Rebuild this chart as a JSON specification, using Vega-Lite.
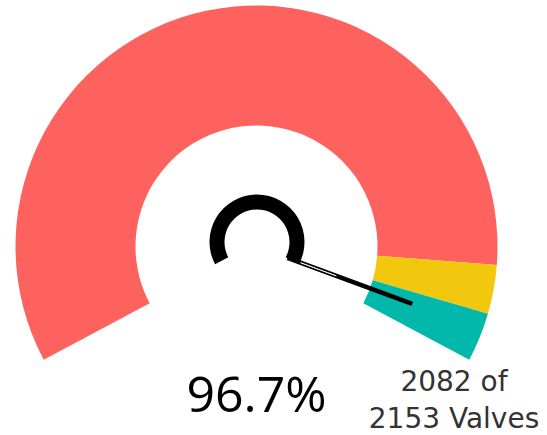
{
  "$schema": "https://vega.github.io/schema/vega-lite/v6.json",
  "width": 547,
  "height": 435,
  "padding": 0,
  "autosize": "none",
  "background": "white",
  "config": {"view": {"stroke": null}},
  "datasets": {
    "bands": [
      {"band": "low", "from": 0, "to": 0.9},
      {"band": "mid", "from": 0.9, "to": 0.95},
      {"band": "high", "from": 0.95, "to": 1}
    ],
    "gauge": [
      {"ratio": 0.967, "min": 0, "max": 1, "line1": "2082 of", "line2": "2153 Valves"}
    ]
  },
  "layer": [
    {
      "data": {"name": "bands"},
      "mark": {"type": "arc", "innerRadius": 121, "outerRadius": 241},
      "encoding": {
        "x": {"datum": 0, "type": "quantitative", "scale": {"domain": [-256.5, 290.5], "nice": false, "zero": false}, "axis": null},
        "y": {"datum": 0, "type": "quantitative", "scale": {"domain": [-188.5, 246.5], "nice": false, "zero": false}, "axis": null},
        "theta": {"field": "from", "type": "quantitative", "stack": false, "scale": {"domain": [0, 1], "range": [-2.0595, 2.0595]}},
        "theta2": {"field": "to"},
        "color": {"field": "band", "type": "nominal", "scale": {"domain": ["low", "mid", "high"], "range": ["#FD625E", "#F2C80F", "#01B8AA"]}, "legend": null}
      }
    },
    {
      "data": {"name": "gauge"},
      "mark": {"type": "arc", "innerRadius": 32.5, "outerRadius": 47.5, "color": "black"},
      "encoding": {
        "x": {"datum": 0.5, "type": "quantitative"},
        "y": {"datum": 4.5, "type": "quantitative"},
        "theta": {"field": "min", "type": "quantitative", "stack": false},
        "theta2": {"field": "max"}
      }
    },
    {
      "data": {"name": "gauge"},
      "mark": {"type": "arc", "innerRadius": 33, "outerRadius": 166, "fill": "black", "stroke": "black", "strokeWidth": 4.5},
      "encoding": {
        "x": {"datum": 0, "type": "quantitative"},
        "y": {"datum": 0, "type": "quantitative"},
        "theta": {"field": "ratio", "type": "quantitative", "stack": false},
        "theta2": {"field": "ratio"}
      }
    },
    {
      "data": {"name": "gauge"},
      "mark": {"type": "arc", "innerRadius": 47, "outerRadius": 85, "fill": "white", "stroke": "white", "strokeWidth": 0.8},
      "encoding": {
        "x": {"datum": 0, "type": "quantitative"},
        "y": {"datum": 0, "type": "quantitative"},
        "theta": {"field": "ratio", "type": "quantitative", "stack": false},
        "theta2": {"field": "ratio"}
      }
    },
    {
      "data": {"name": "gauge"},
      "mark": {"type": "text", "font": "Open Sans", "fontSize": 50, "align": "center", "baseline": "alphabetic", "color": "#000000"},
      "encoding": {
        "x": {"datum": 0, "type": "quantitative"},
        "y": {"datum": -165.5, "type": "quantitative"},
        "text": {"field": "ratio", "type": "quantitative", "format": ".1%"}
      }
    },
    {
      "data": {"name": "gauge"},
      "mark": {"type": "text", "font": "DejaVu Sans", "fontSize": 28, "align": "center", "baseline": "alphabetic", "color": "#333333"},
      "encoding": {
        "x": {"datum": 197.5, "type": "quantitative"},
        "y": {"datum": -144.5, "type": "quantitative"},
        "text": {"field": "line1", "type": "nominal"}
      }
    },
    {
      "data": {"name": "gauge"},
      "mark": {"type": "text", "font": "DejaVu Sans", "fontSize": 28, "align": "center", "baseline": "alphabetic", "color": "#333333"},
      "encoding": {
        "x": {"datum": 197.5, "type": "quantitative"},
        "y": {"datum": -181.5, "type": "quantitative"},
        "text": {"field": "line2", "type": "nominal"}
      }
    }
  ]
}
